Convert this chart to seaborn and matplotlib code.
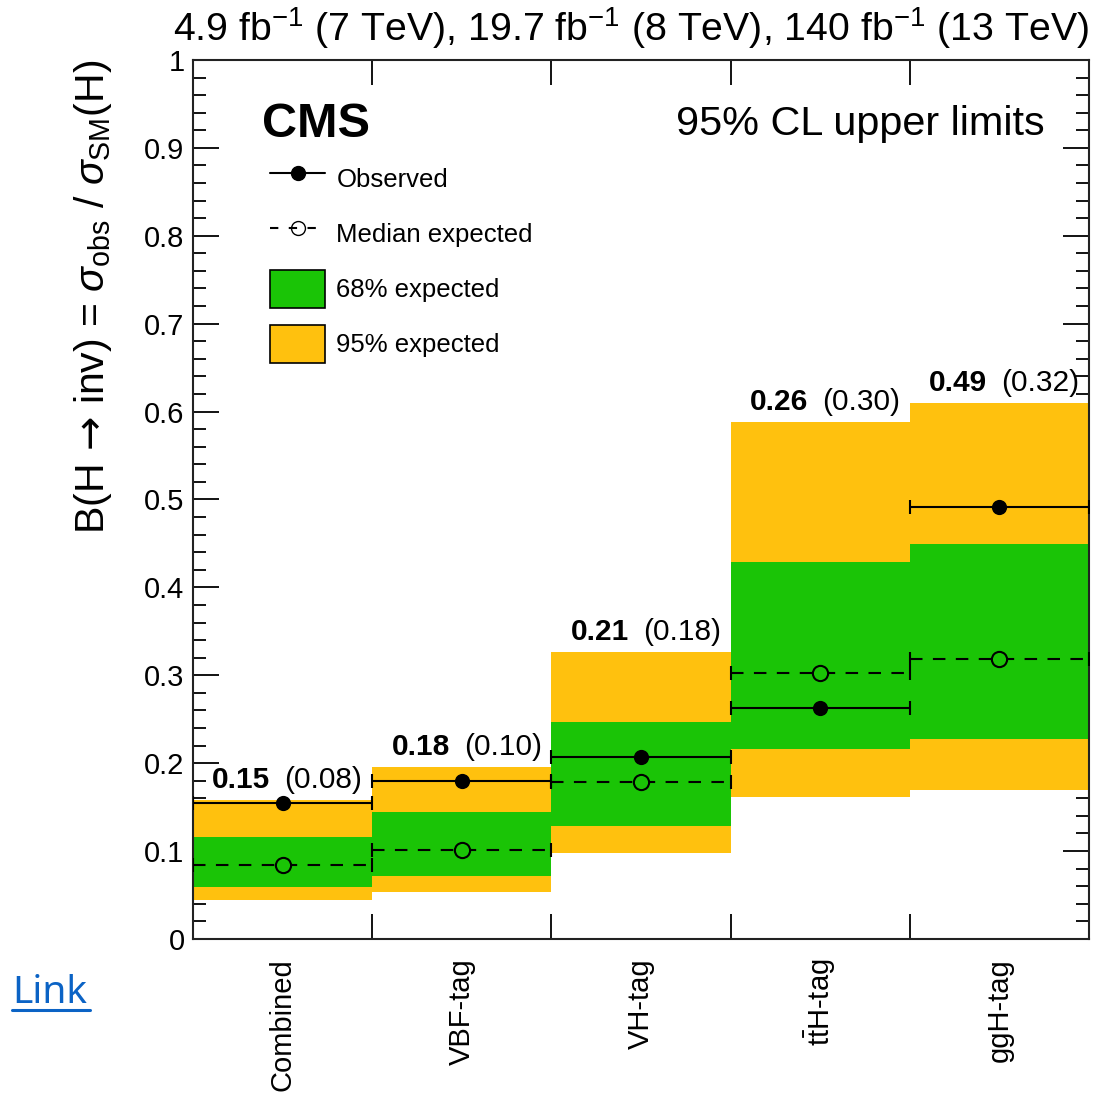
import numpy as np
import pandas as pd
import seaborn as sns
import matplotlib
matplotlib.use("Agg")
import matplotlib.pyplot as plt
from matplotlib.lines import Line2D
from matplotlib.patches import Patch
from matplotlib.ticker import MultipleLocator, FixedLocator, FuncFormatter

# data
categories = ["Combined", "VBF-tag", "VH-tag", r"t$\bar{\mathrm{t}}$H-tag", "ggH-tag"]
observed = [0.155, 0.180, 0.207, 0.263, 0.491]
expected = [0.084, 0.101, 0.179, 0.303, 0.318]
band68_lo = [0.059, 0.072, 0.129, 0.216, 0.227]
band68_hi = [0.116, 0.144, 0.247, 0.429, 0.449]
band95_lo = [0.044, 0.054, 0.098, 0.161, 0.170]
band95_hi = [0.158, 0.196, 0.327, 0.588, 0.610]
obs_text = ["0.15", "0.18", "0.21", "0.26", "0.49"]
exp_text = ["(0.08)", "(0.10)", "(0.18)", "(0.30)", "(0.32)"]

sns.set_style("ticks")
plt.rcParams["font.family"] = ["Liberation Sans", "DejaVu Sans"]
plt.rcParams["mathtext.fontset"] = "custom"
plt.rcParams["mathtext.rm"] = "Liberation Sans"
plt.rcParams["mathtext.it"] = "Liberation Sans:italic"
plt.rcParams["mathtext.bf"] = "Liberation Sans:bold"
plt.rcParams["mathtext.sf"] = "DejaVu Sans"
for k in ["text.color", "axes.labelcolor", "xtick.color", "ytick.color"]:
    plt.rcParams[k] = "black"

yellow = "#FFC10E"
green = "#1AC406"

df = pd.DataFrame({"pos": np.arange(len(categories)), "obs": observed, "exp": expected})

fig = plt.figure(figsize=(11.07, 10.94), dpi=100)
ax = fig.add_axes([0.1743, 0.1417, 0.8094, 0.8035])

# bands
ax.bar(df["pos"], np.array(band95_hi) - np.array(band95_lo), bottom=band95_lo,
       width=1.0, color=yellow, linewidth=0, zorder=1)
ax.bar(df["pos"], np.array(band68_hi) - np.array(band68_lo), bottom=band68_lo,
       width=1.0, color=green, linewidth=0, zorder=2)

# expected: dashed horizontal bars + open circles
eb = ax.errorbar(df["pos"], df["exp"], xerr=0.5, fmt="none", ecolor="black",
                 elinewidth=1.5, capsize=5, capthick=1.5, zorder=3)
eb[2][0].set_linestyle((0, (6, 5)))
sns.scatterplot(data=df, x="pos", y="exp", ax=ax, marker="o", s=120,
                facecolor=green, edgecolor="black", linewidth=1.5, zorder=4)

# observed
ax.errorbar(df["pos"], df["obs"], xerr=0.5, fmt="none", ecolor="black",
            elinewidth=1.5, capsize=5, capthick=1.5, zorder=5)
sns.scatterplot(data=df, x="pos", y="obs", ax=ax, marker="o", s=120,
                color="black", edgecolor="black", linewidth=0, zorder=6)

# limit values above each bin
for i in range(len(categories)):
    ax.annotate(obs_text[i], (df["pos"][i], band95_hi[i]), xytext=(-12, 12),
                textcoords="offset pixels", ha="right", va="baseline",
                fontsize=21.5, fontweight="bold", zorder=7)
    ax.annotate(exp_text[i], (df["pos"][i], band95_hi[i]), xytext=(2, 12),
                textcoords="offset pixels", ha="left", va="baseline",
                fontsize=21.5, zorder=7)

ax.set_xlim(-0.5, len(categories) - 0.5)
ax.set_ylim(0, 1)
ax.set_xlabel("")
ax.set_ylabel(r"B(H$\,\mathsf{\rightarrow}\,$inv) = $\sigma_{\mathrm{obs}}$ / $\sigma_{\mathrm{SM}}$(H)",
              fontsize=29.5, loc="top", labelpad=22)

ax.xaxis.set_major_locator(FixedLocator(df["pos"]))
ax.set_xticklabels(categories, rotation=90, fontsize=21)
ax.xaxis.set_minor_locator(FixedLocator(np.arange(0.5, len(categories) - 0.5, 1.0)))
ax.tick_params(axis="x", which="major", length=0, pad=14)
ax.tick_params(axis="x", which="minor", direction="in", length=18, width=1.3,
               top=True, bottom=True)
for lab in ax.get_xticklabels():
    lab.set_verticalalignment("top")

ax.yaxis.set_major_locator(MultipleLocator(0.1))
ax.yaxis.set_minor_locator(MultipleLocator(0.02))
ax.yaxis.set_major_formatter(FuncFormatter(lambda v, p: "%g" % round(v, 2)))
ax.tick_params(axis="y", which="major", direction="in", length=19, width=1.3,
               left=True, right=True, labelsize=21, pad=6)
ax.tick_params(axis="y", which="minor", direction="in", length=9.5, width=1.3,
               left=True, right=True)
for sp in ax.spines.values():
    sp.set_visible(True)
    sp.set_linewidth(1.5)
    sp.set_color("#222222")

# texts
ax.text(0.077, 0.912, "CMS", transform=ax.transAxes, fontsize=35,
        fontweight="bold", ha="left", va="baseline")
ax.text(0.951, 0.915, "95% CL upper limits", transform=ax.transAxes,
        fontsize=29.8, ha="right", va="baseline")
ax.text(1.0, 1.022, r"4.9 fb$^{-1}$ (7 TeV), 19.7 fb$^{-1}$ (8 TeV), 140 fb$^{-1}$ (13 TeV)",
        transform=ax.transAxes, fontsize=28.3, ha="right", va="baseline")

handles = [
    Line2D([], [], color="black", lw=1.5, marker="o", markersize=10),
    Line2D([], [], color="black", lw=1.5, ls=(0, (4, 5)), marker="o",
           markersize=10, markerfacecolor="none"),
    Patch(facecolor=green, edgecolor="black", linewidth=1.2),
    Patch(facecolor=yellow, edgecolor="black", linewidth=1.2),
]
labels = ["Observed", "Median expected", "68% expected", "95% expected"]
ax.legend(handles, labels, loc="upper left", bbox_to_anchor=(0.086, 0.887),
          frameon=False, fontsize=18.5, handlelength=2.15, handleheight=1.9,
          handletextpad=0.43, labelspacing=0.67, borderpad=0, borderaxespad=0)

# "Link" text below the axis
fig.text(12 / 1107, 1 - 1003 / 1094, "Link", fontsize=28, color="#0B63C5",
         family=["Noto Sans", "DejaVu Sans"], ha="left", va="baseline")
fig.add_artist(Line2D([12 / 1107, 90 / 1107], [1 - 1010 / 1094, 1 - 1010 / 1094],
                      color="#0B63C5", lw=2.2))

fig.savefig("out.png", dpi=100)
